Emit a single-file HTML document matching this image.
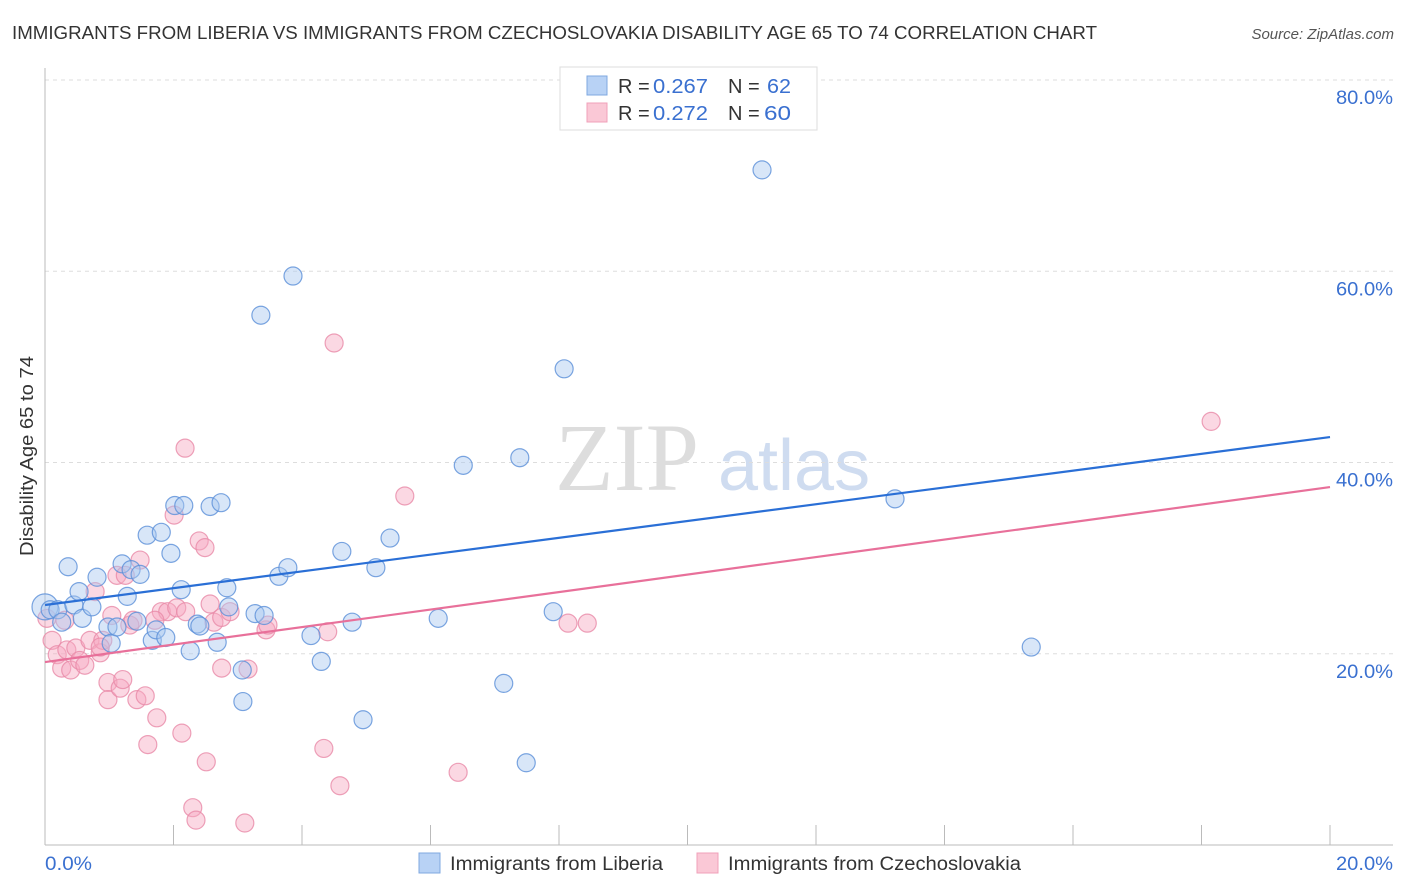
<!DOCTYPE html>
<html><head><meta charset="utf-8"><style>
body{margin:0;background:#fff;font-family:"Liberation Sans",sans-serif;}
svg{display:block}
</style></head><body>
<svg id="chart" width="1406" height="892" viewBox="0 0 1406 892" xmlns="http://www.w3.org/2000/svg">
<text x="12" y="39" font-size="18.5" fill="#333" textLength="1085" lengthAdjust="spacingAndGlyphs">IMMIGRANTS FROM LIBERIA VS IMMIGRANTS FROM CZECHOSLOVAKIA DISABILITY AGE 65 TO 74 CORRELATION CHART</text>
<text x="1394" y="39" font-size="15" fill="#555" font-style="italic" text-anchor="end">Source: ZipAtlas.com</text>
<g>
<text x="555" y="490" font-family="Liberation Serif,serif" font-size="96" fill="#ddd">ZIP</text>
<text x="718" y="490" font-size="72" fill="#cfdcf0">atlas</text>
</g>
<g id="grid"></g>
<g id="axes"></g>
<g id="marks"></g>
<text transform="translate(33,456) rotate(-90)" font-size="18" fill="#333" text-anchor="middle" textLength="200" lengthAdjust="spacingAndGlyphs">Disability Age 65 to 74</text>
<g>
<rect x="560" y="67" width="257" height="63" fill="#fff" stroke="#ddd"/>
<rect x="587" y="76" width="20" height="19" fill="#b8d2f5" stroke="#7fa8e0"/>
<rect x="587" y="103" width="20" height="19" fill="#fac8d6" stroke="#f0a0ba"/>
<text x="618" y="93" font-size="20" fill="#333">R =</text>
<text x="653" y="93" font-size="20" fill="#3a70d0" textLength="55" lengthAdjust="spacingAndGlyphs">0.267</text>
<text x="728" y="93" font-size="20" fill="#333">N =</text>
<text x="767" y="93" font-size="20" fill="#3a70d0" textLength="24" lengthAdjust="spacingAndGlyphs">62</text>
<text x="618" y="120" font-size="20" fill="#333">R =</text>
<text x="653" y="120" font-size="20" fill="#3a70d0" textLength="55" lengthAdjust="spacingAndGlyphs">0.272</text>
<text x="728" y="120" font-size="20" fill="#333">N =</text>
<text x="764" y="120" font-size="20" fill="#3a70d0" textLength="27" lengthAdjust="spacingAndGlyphs">60</text>
</g>
<g>
<rect x="419" y="853" width="21" height="20" fill="#b8d2f5" stroke="#7fa8e0"/>
<text x="450" y="870" font-size="19" fill="#333" textLength="213" lengthAdjust="spacingAndGlyphs">Immigrants from Liberia</text>
<rect x="697" y="853" width="21" height="20" fill="#fac8d6" stroke="#f0a0ba"/>
<text x="728" y="870" font-size="19" fill="#333" textLength="293" lengthAdjust="spacingAndGlyphs">Immigrants from Czechoslovakia</text>
</g>
</svg>
<script>
const yTicks=[20,40,60,80];
const yTickLabels=["20.0%","40.0%","60.0%","80.0%"];
const xTickLabels=["0.0%","20.0%"];
const blueX=[0.00,0.08,0.20,0.26,0.36,0.45,0.53,0.58,0.73,0.81,0.98,1.03,1.12,1.20,1.28,1.34,1.48,1.43,1.59,1.67,1.73,1.81,1.88,1.96,2.02,2.12,2.16,2.26,2.37,2.41,2.57,2.68,2.74,2.83,2.86,3.07,3.08,3.27,3.36,3.41,3.64,3.78,3.86,4.14,4.30,4.62,4.78,4.95,5.15,5.37,6.12,6.51,7.14,7.39,7.49,7.91,8.08,11.16,13.23,15.35];
const blueY=[24.9,24.6,24.6,23.3,29.1,25.1,26.5,23.7,24.9,28.0,22.8,21.1,22.8,29.4,26.0,28.8,28.3,23.4,32.4,21.4,22.5,32.7,21.7,30.5,35.5,26.7,35.5,20.3,23.1,22.9,35.4,21.2,35.8,26.9,24.9,18.3,15.0,24.2,55.4,24.0,28.1,29.0,59.5,21.9,19.2,30.7,23.3,13.1,29.0,32.1,23.7,39.7,16.9,40.5,8.6,24.4,49.8,70.6,36.2,20.7];
const pinkX=[0.03,0.11,0.19,0.26,0.34,0.40,0.48,0.54,0.62,0.70,0.78,0.86,0.90,0.98,0.98,1.12,1.17,1.25,1.32,1.37,1.43,1.48,1.56,1.60,1.74,1.81,1.91,2.01,2.05,2.13,2.18,2.19,2.30,2.35,2.40,2.49,2.51,2.57,2.63,2.75,2.75,3.11,3.16,3.44,3.47,4.34,4.40,4.50,4.59,5.60,6.43,8.14,8.44,18.15,0.86,1.04,0.31,1.21,1.71,2.88];
const pinkY=[23.7,21.4,19.9,18.5,20.4,18.3,20.6,19.3,18.8,21.4,26.5,20.1,21.4,17.0,15.2,28.2,16.4,28.2,23.0,23.5,15.2,29.8,15.6,10.5,13.3,24.4,24.4,34.5,24.8,11.7,41.5,24.4,3.9,2.6,31.8,31.1,8.7,25.2,23.3,23.8,18.5,2.3,18.4,22.5,23.0,10.1,22.3,52.5,6.2,36.5,7.6,23.2,23.2,44.3,20.7,24.0,23.5,17.3,23.5,24.4];
const blueTrend=[25.1,42.66];
const pinkTrend=[19.13,37.43];
const X0=45,X1=1330,Y0=845,Y80=80;
const sx=v=>X0+(v/20)*(X1-X0);
const sy=v=>Y0-(v/80)*(Y0-Y80);
const NS="http://www.w3.org/2000/svg";
function mk(tag,attrs,parent){const e=document.createElementNS(NS,tag);for(const k in attrs)e.setAttribute(k,attrs[k]);parent.appendChild(e);return e;}
const grid=document.getElementById('grid'),axes=document.getElementById('axes'),marks=document.getElementById('marks');
yTicks.forEach((t,i)=>{
 const l=mk('line',{x1:X0,x2:1393,y1:sy(t),y2:sy(t),stroke:'#ddd','stroke-dasharray':'4,4'},grid);
 
 
 const tx=mk('text',{x:1393,y:sy(t)+24,'font-size':19,fill:'#3a70d0','text-anchor':'end',textLength:57,lengthAdjust:'spacingAndGlyphs'},axes);
 tx.textContent=yTickLabels[i];
 
 
});
mk('line',{x1:X0,x2:X0,y1:68,y2:Y0,stroke:'#bbb'},axes);
mk('line',{x1:X0,x2:1393,y1:Y0,y2:Y0,stroke:'#bbb'},axes);
for(let i=0;i<=10;i++){const x=sx(i*2);const t=mk('line',{x1:x,x2:x,y1:825,y2:Y0,stroke:'#bbb'},axes);}
[[0,'start',45,47],[20,'end',1393,57]].forEach((a,i)=>{const t=mk('text',{x:a[2],y:870,'font-size':19,fill:'#3a70d0','text-anchor':a[1],textLength:a[3],lengthAdjust:'spacingAndGlyphs'},axes);t.textContent=xTickLabels[i];});
function pts(xs,ys,fill,stroke,name){xs.forEach((x,i)=>{const c=mk('circle',{cx:sx(x),cy:sy(ys[i]),r:i===0&&name==='point-liberia'?13:9,fill:fill,'fill-opacity':0.45,stroke:stroke,'stroke-opacity':0.8,'stroke-width':1.2},marks);});}
pts(pinkX,pinkY,'#f7a8c0','#e88aa8','point-czechoslovakia');
pts(blueX,blueY,'#a8c8f0','#5a8fd8','point-liberia');
const bl=mk('line',{x1:sx(0),y1:sy(blueTrend[0]),x2:sx(20),y2:sy(blueTrend[1]),stroke:'#2a6fd6','stroke-width':2.2},marks);


const pl=mk('line',{x1:sx(0),y1:sy(pinkTrend[0]),x2:sx(20),y2:sy(pinkTrend[1]),stroke:'#e8709a','stroke-width':2.2},marks);


</script>
</body></html>
